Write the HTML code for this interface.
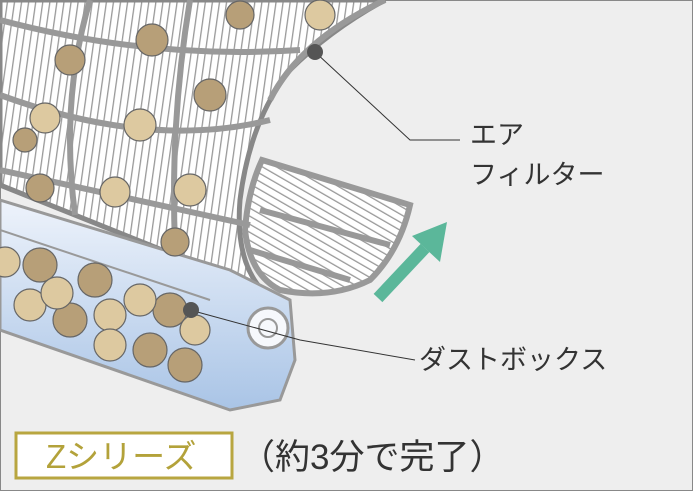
<!DOCTYPE html>
<html><head><meta charset="utf-8"><style>
body{margin:0;width:693px;height:491px;overflow:hidden;background:#eeeeee}
svg{position:absolute;left:0;top:0}
.t{position:absolute;font-family:"Liberation Sans","Noto Sans CJK JP",sans-serif;color:#333;font-size:27px;line-height:1;white-space:nowrap}
</style></head><body>
<svg width="693" height="491" viewBox="0 0 693 491">
<defs>
<pattern id="st" width="7" height="7" patternUnits="userSpaceOnUse" patternTransform="rotate(8)">
<rect width="7" height="7" fill="#fff"/><rect width="1.3" height="7" fill="#999"/></pattern>
<pattern id="st2" width="7" height="7" patternUnits="userSpaceOnUse" patternTransform="rotate(-60)">
<rect width="7" height="7" fill="#fff"/><rect width="1.3" height="7" fill="#999"/></pattern>
<linearGradient id="bl" x1="0" y1="0" x2="0" y2="1"><stop offset="0" stop-color="#eef3fb"/><stop offset="1" stop-color="#a9c4e6"/></linearGradient>
</defs>
<rect x="0.5" y="0.5" width="692" height="490" fill="#eeeeee" stroke="#888"/>
<path d="M0 0 L385 0 Q330 30 290 70 Q250 120 240 200 Q235 260 262 290 L0 185 Z" fill="url(#st)" stroke="#888" stroke-width="5"/>
<path d="M262 160 L410 205 Q400 250 370 280 Q330 300 280 290 Q250 275 245 230 Q248 190 262 160 Z" fill="url(#st2)" stroke="#999" stroke-width="6"/>
<path d="M260 210 L390 245 M250 250 L350 280" stroke="#999" stroke-width="6"/>
<g stroke="#999" stroke-width="6" fill="none">
<path d="M0 95 Q150 150 270 120"/><path d="M0 20 Q150 60 300 50"/><path d="M0 170 L250 225"/>
<path d="M90 0 Q60 100 75 215"/><path d="M190 0 Q170 120 175 245"/><path d="M385 0 Q300 40 270 100"/>
</g>
<path d="M0 200 L230 270 L290 300 L295 360 L280 400 L230 410 L0 330 Z" fill="url(#bl)" stroke="#999" stroke-width="3"/>
<path d="M0 230 L210 300" stroke="#999" stroke-width="2"/>
<circle cx="268" cy="328" r="20" fill="#f6f8fc" stroke="#999" stroke-width="3"/><circle cx="268" cy="328" r="9" fill="none" stroke="#999" stroke-width="2"/>
<g stroke="#666" stroke-width="1.2">
<g fill="#b79f78"><circle cx="40" cy="265" r="17"/><circle cx="95" cy="280" r="17"/><circle cx="70" cy="320" r="17"/><circle cx="150" cy="350" r="17"/><circle cx="185" cy="365" r="17"/><circle cx="170" cy="310" r="17"/><circle cx="70" cy="60" r="15"/><circle cx="152" cy="40" r="16"/><circle cx="210" cy="95" r="16"/><circle cx="240" cy="15" r="14"/><circle cx="40" cy="188" r="14"/><circle cx="175" cy="242" r="14"/><circle cx="25" cy="140" r="12"/></g>
<g fill="#ddc9a0"><circle cx="5" cy="262" r="15"/><circle cx="30" cy="305" r="16"/><circle cx="57" cy="293" r="16"/><circle cx="110" cy="315" r="16"/><circle cx="140" cy="300" r="16"/><circle cx="110" cy="345" r="16"/><circle cx="195" cy="330" r="15"/><circle cx="45" cy="118" r="15"/><circle cx="140" cy="125" r="16"/><circle cx="115" cy="192" r="15"/><circle cx="190" cy="190" r="16"/><circle cx="320" cy="15" r="15"/></g>
</g>
<g stroke="#333" stroke-width="1" fill="none">
<path d="M315 52 L410 140 L460 140"/><path d="M190 310 L300 340 L415 360"/>
</g>
<circle cx="315" cy="52" r="8" fill="#555"/><circle cx="191" cy="310" r="8" fill="#555"/>
<path d="M378 298 L425 248" stroke="#5bb79a" stroke-width="12"/>
<polygon points="447,222 440,262 412,236" fill="#5bb79a"/>
<rect x="16" y="433" width="216" height="45" fill="#fff" stroke="#b8a640" stroke-width="3"/>
</svg>
<div class="t" style="left:470px;top:122px">エア</div>
<div class="t" style="left:470px;top:162px">フィルター</div>
<div class="t" style="left:419px;top:347px">ダストボックス</div>
<div class="t" style="left:46px;top:440px;font-size:33px;color:#b3a23a">Zシリーズ</div>
<div class="t" style="left:240px;top:440px;font-size:35px">（約3分で完了）</div>
</body></html>
